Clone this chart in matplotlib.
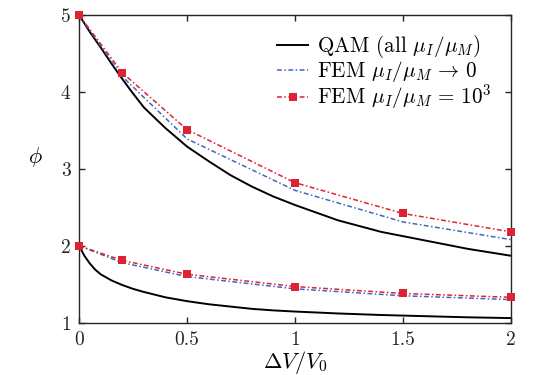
import matplotlib
matplotlib.use("Agg")
import matplotlib.pyplot as plt

plt.rcParams['font.family'] = ['cmr10', 'DejaVu Serif']
plt.rcParams['mathtext.fontset'] = 'cm'
plt.rcParams['axes.formatter.use_mathtext'] = True

# QAM curves (black)
x_qam = [0, 0.025, 0.05, 0.075, 0.1, 0.15, 0.2, 0.25, 0.3, 0.4, 0.5, 0.6, 0.7, 0.8,
         0.9, 1.0, 1.2, 1.4, 1.6, 1.8, 2.0]
qam_hi = [5, 4.89, 4.78, 4.68, 4.58, 4.37, 4.17, 3.98, 3.80, 3.53, 3.29, 3.10, 2.92, 2.77,
          2.64, 2.53, 2.33, 2.18, 2.07, 1.96, 1.87]
qam_lo = [2, 1.87, 1.77, 1.69, 1.63, 1.55, 1.49, 1.44, 1.40, 1.33, 1.28, 1.24, 1.21, 1.18,
          1.16, 1.145, 1.12, 1.10, 1.085, 1.07, 1.06]

# FEM points
x_fem = [0, 0.2, 0.5, 1.0, 1.5, 2.0]
fem0_hi = [5, 4.20, 3.39, 2.72, 2.31, 2.08]
fem0_lo = [2, 1.78, 1.60, 1.44, 1.35, 1.30]
fem3_hi = [5, 4.25, 3.51, 2.82, 2.42, 2.18]
fem3_lo = [2, 1.81, 1.63, 1.47, 1.38, 1.33]

xticks = [0, 0.5, 1, 1.5, 2]
xticklabels = ['0', '0.5', '1', '1.5', '2']
yticks = [1, 2, 3, 4, 5]
yticklabels = ['1', '2', '3', '4', '5']

fig = plt.figure(figsize=(5.57, 3.75), dpi=100)
ax = fig.add_axes([79/557, 1-322.7/375, (511-79)/557, (322.7-15)/375])

black = 'black'
blue = '#4466bb'
red = '#dd2233'
dd = [3.2, 1.6, 1.0, 1.6]

l1, = ax.plot(x_qam, qam_hi, color=black, lw=1.4, label=r'QAM (all $\mu_I/\mu_M$)')
ax.plot(x_qam, qam_lo, color=black, lw=1.4)
l2, = ax.plot(x_fem, fem0_hi, color=blue, lw=1.1, dashes=dd, label=r'FEM $\mu_I/\mu_M \,\to\, 0$')
ax.plot(x_fem, fem0_lo, color=blue, lw=1.1, dashes=dd)
l3, = ax.plot(x_fem, fem3_hi, color=red, lw=1.1, dashes=dd, marker='s', ms=5.5, mew=0,
              label=r'FEM $\mu_I/\mu_M \,=\, 10^3$', clip_on=False, zorder=5)
ax.plot(x_fem, fem3_lo, color=red, lw=1.1, dashes=dd, marker='s', ms=5.5, mew=0,
        clip_on=False, zorder=5)

ax.set_xlim(0, 2)
ax.set_ylim(1, 5)
ax.set_xticks(xticks)
ax.set_xticklabels(xticklabels)
ax.set_yticks(yticks)
ax.set_yticklabels(yticklabels)
ax.tick_params(direction='in', top=True, right=True, labelsize=14, colors='#262626',
               length=4, width=1.0, pad=6)
for s in ax.spines.values():
    s.set_color('#262626')
    s.set_linewidth(1.0)

ax.set_xlabel(r'$\Delta V/V_0$', fontsize=16, labelpad=0)
ax.set_ylabel(r'$\phi$', fontsize=16, rotation=0, labelpad=18)

leg = ax.legend(handles=[l1, l2, l3], loc='upper right', frameon=False, fontsize=15.2,
                handlelength=1.45, handletextpad=0.45, labelspacing=-0.05,
                borderpad=0, borderaxespad=0,
                bbox_to_anchor=(492/557, 1-33/375), bbox_transform=fig.transFigure)

fig.savefig('out.png', dpi=100)
